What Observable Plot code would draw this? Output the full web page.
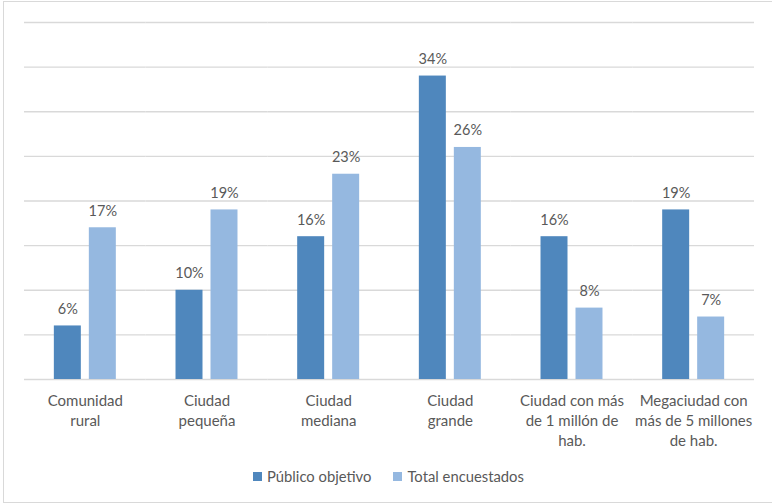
<!DOCTYPE html>
<html><head><meta charset="utf-8">
<script src="https://cdn.jsdelivr.net/npm/d3@7"></script>
<script src="https://cdn.jsdelivr.net/npm/@observablehq/plot@0.6"></script>
<style>
body{margin:0;background:#fff;}
#wrap{position:relative;width:772px;height:503px;overflow:hidden;font-family:Lato,"Open Sans",sans-serif;background:#fff;}
#frame{position:absolute;left:3px;top:1px;width:790px;height:502px;border:1px solid #d9d9d9;box-sizing:border-box;pointer-events:none;}
#chart{position:absolute;left:0;top:0;}
#legend{position:absolute;top:467px;left:253px;display:flex;align-items:center;font-size:14.8px;color:#595959;white-space:nowrap;}
#legend .it{display:flex;align-items:center;margin-right:22px;}
#legend .sw{width:9px;height:9px;margin-right:5px;}
</style></head>
<body>
<div id="wrap"><div id="frame"></div><div id="chart"></div><div id="legend"></div></div>
<script>
const categories = ["Comunidad rural","Ciudad pequeña","Ciudad mediana","Ciudad grande","Ciudad con más de 1 millón de hab.","Megaciudad con más de 5 millones de hab."];
const tickLabels = ["Comunidad\nrural","Ciudad\npequeña","Ciudad\nmediana","Ciudad\ngrande","Ciudad con más\nde 1 millón de\nhab.","Megaciudad con\nmás de 5 millones\nde hab."];
const series = ["Público objetivo","Total encuestados"];
const publicoObjetivo = [6,10,16,34,16,19];
const totalEncuestados = [17,19,23,26,8,7];
const colors = ["#4f87bd","#95b8e0"];
const gridTicks = [0,5,10,15,20,25,30,35,40];

const rows = categories.flatMap((c,i)=>[
  {cat:c, serie:series[0], v:publicoObjetivo[i]},
  {cat:c, serie:series[1], v:totalEncuestados[i]}
]);
const labelOf = new Map(categories.map((c,i)=>[c,tickLabels[i]]));

const plot = Plot.plot({
  width:772, height:460,
  marginTop:22, marginBottom:81, marginLeft:24, marginRight:18,
  style:{fontFamily:'Lato,"Open Sans",sans-serif', background:"transparent"},
  fx:{domain:categories, padding:0, label:null, round:false},
  x:{domain:series, paddingInner:0.2286, paddingOuter:0.853, axis:null, round:false},
  y:{domain:[0,40], axis:null},
  color:{domain:series, range:colors},
  marks:[
    Plot.gridY(gridTicks, {stroke:"#d9d9d9", strokeOpacity:1, strokeWidth:1.3}),
    Plot.barY(rows, {fx:"cat", x:"serie", y:"v", fill:"serie"}),
    Plot.text(rows, {fx:"cat", x:"serie", y:"v", text:d=>d.v+"%", lineAnchor:"bottom", dy:-12, fontSize:14.5, fill:"#595959"}),
    Plot.axisFx({anchor:"bottom", tickSize:0, tickPadding:12, fontSize:15, lineHeight:1.33, fill:"#595959", tickFormat:d=>labelOf.get(d), label:null})
  ]
});
document.getElementById("chart").appendChild(plot);

const lg = document.getElementById("legend");
series.forEach((s,i)=>{
  const it=document.createElement("div"); it.className="it";
  const sw=document.createElement("div"); sw.className="sw"; sw.style.background=colors[i];
  const t=document.createElement("span"); t.textContent=s;
  it.appendChild(sw); it.appendChild(t); lg.appendChild(it);
});
</script>
</body></html>
